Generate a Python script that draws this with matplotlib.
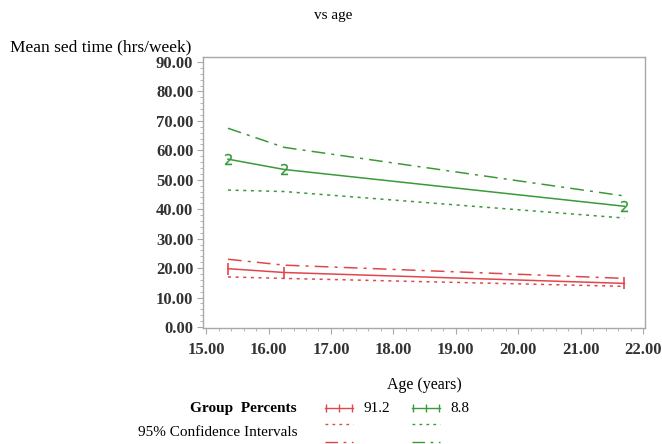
import matplotlib
matplotlib.use('Agg')
import matplotlib.pyplot as plt
from matplotlib.lines import Line2D
from matplotlib.ticker import MultipleLocator, FormatStrFormatter

plt.rcParams['font.family'] = ['Liberation Serif', 'DejaVu Serif']

#=========================================================================
# data
ages = [15.35, 16.25, 21.7]

grp1_label = '91.2'
grp1_mean = [19.8, 18.5, 14.8]
grp1_upper = [23.0, 21.0, 16.5]
grp1_lower = [17.0, 16.5, 13.8]

grp2_label = '8.8'
grp2_mean = [57.0, 53.5, 41.0]
grp2_upper = [67.5, 61.0, 44.5]
grp2_lower = [46.5, 46.0, 37.0]

red = '#e0474c'
green = '#3a9a3a'
frame = '#a8a8a8'

#=========================================================================
fig = plt.figure(figsize=(6.62, 4.44), dpi=100)
ax = fig.add_axes([203 / 662, 1 - 328 / 444, 442 / 662, 271 / 444])

dashdot = (0, (9, 4, 2, 4))
for mean, upper, lower, col, mk, ms, mew in [
        (grp1_mean, grp1_upper, grp1_lower, red, '|', 9, 1.2),
        (grp2_mean, grp2_upper, grp2_lower, green, '$2$', 8, 0.2)]:
    ax.plot(ages, mean, color=col, lw=1.1, marker=mk, ms=ms, mew=mew)
    ax.plot(ages, upper, color=col, lw=1.1, ls=dashdot)
    ax.plot(ages, lower, color=col, lw=1.1, ls=(0, (2, 3)))

ax.set_xlim(14.95, 22.03)
ax.set_ylim(-0.35, 91.7)
ax.xaxis.set_major_locator(MultipleLocator(1))
ax.xaxis.set_minor_locator(MultipleLocator(0.2))
ax.yaxis.set_major_locator(MultipleLocator(10))
ax.yaxis.set_minor_locator(MultipleLocator(2))
ax.xaxis.set_major_formatter(FormatStrFormatter('%.2f'))
ax.yaxis.set_major_formatter(FormatStrFormatter('%.2f'))

for s in ax.spines.values():
    s.set_color(frame)
    s.set_linewidth(1.0)
ax.tick_params(which='both', color=frame, direction='out')
ax.tick_params(which='major', length=4, labelsize=12, pad=3)
ax.tick_params(axis='x', which='major', pad=6)
ax.tick_params(which='minor', length=2)
for lab in ax.get_xticklabels() + ax.get_yticklabels():
    lab.set_fontweight('bold')
    lab.set_color('#333333')

ax.set_xlabel('Age (years)', fontsize=11.5, labelpad=14)
fig.text(10 / 662, 1 - 47 / 444, 'Mean sed time (hrs/week)', fontsize=12.5,
         ha='left', va='center')
fig.text(333 / 662, 1 - 15 / 444, 'vs age', fontsize=11, ha='center',
         va='center')

#=========================================================================
# legend, laid out by hand like the SAS one
fig.text(297 / 662, 1 - 408 / 444, 'Group  Percents', fontsize=11,
         fontweight='bold', ha='right', va='center')
fig.text(297 / 662, 1 - 432 / 444, '95% Confidence Intervals', fontsize=11,
         ha='right', va='center')

for x0, col, mk, txt in [(325, red, '|', grp1_label),
                         (412, green, '|', grp2_label)]:
    yy = 1 - 408 / 444
    fig.add_artist(Line2D([x0 / 662, (x0 + 28) / 662], [yy, yy], color=col,
                          lw=1.0, transform=fig.transFigure))
    fig.add_artist(Line2D([(x0 + 1) / 662, (x0 + 14) / 662, (x0 + 27) / 662],
                          [yy] * 3, color=col, lw=0, marker=mk, ms=6,
                          transform=fig.transFigure))
    fig.text((x0 + 38) / 662, yy, txt, fontsize=11, ha='left', va='center')
    y2 = 1 - 424 / 444
    fig.add_artist(Line2D([x0 / 662, (x0 + 28) / 662], [y2, y2], color=col,
                          lw=1.0, ls=(0, (2, 3)), transform=fig.transFigure))
    y3 = 1 - 442 / 444
    fig.add_artist(Line2D([x0 / 662, (x0 + 28) / 662], [y3, y3], color=col,
                          lw=1.0, ls=dashdot, transform=fig.transFigure))

fig.savefig('out.png', dpi=100)
